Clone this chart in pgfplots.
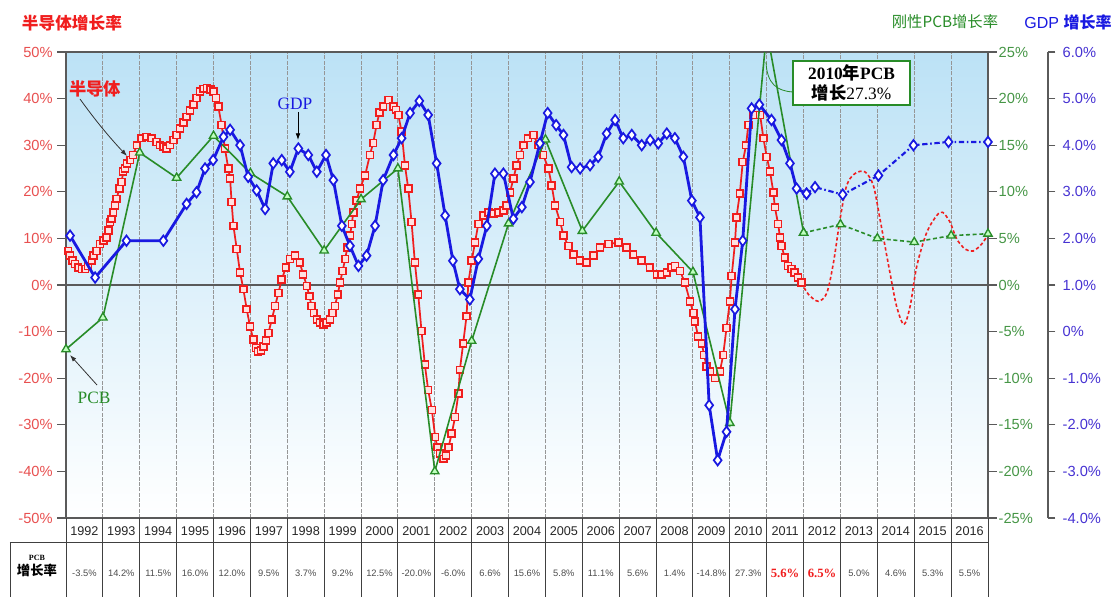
\documentclass[border=0pt]{standalone}
\usepackage{pgfplots}
\pgfplotsset{compat=1.18}
\usepackage{fontspec}
\usetikzlibrary{arrows.meta}
\setmainfont{Liberation Sans}
\newfontfamily\serif{Liberation Serif}
\newfontfamily\cjk{Noto Sans CJK SC}
\definecolor{cred}{RGB}{240,30,30}
\definecolor{tred}{RGB}{232,80,80}
\definecolor{cgreen}{RGB}{40,140,40}
\definecolor{tgreen}{RGB}{70,150,70}
\definecolor{cblue}{RGB}{25,25,225}
\definecolor{tblue}{RGB}{70,50,210}
\definecolor{bgtop}{RGB}{188,226,246}
\definecolor{gridc}{RGB}{150,150,150}
\definecolor{framec}{RGB}{90,90,90}

\pgfplotstableread{
x y
1991.06 7.3
1991.11 6.3
1991.18 5.2
1991.24 4.5
1991.33 3.7
1991.43 3.4
1991.52 3.4
1991.60 4.1
1991.70 5.2
1991.74 6.3
1991.83 7.3
1991.92 8.8
1992.01 9.5
1992.10 10.2
1992.15 11.7
1992.19 13.5
1992.24 14.2
1992.28 15.6
1992.33 17.1
1992.37 18.5
1992.45 20.7
1992.51 22.1
1992.55 24.3
1992.60 25.0
1992.65 26.1
1992.74 26.8
1992.82 27.9
1992.92 30.0
1993.05 31.5
1993.19 31.8
1993.32 31.5
1993.46 30.7
1993.55 30.0
1993.64 29.7
1993.73 29.3
1993.82 30.0
1993.91 31.1
1994.00 32.2
1994.09 33.6
1994.18 34.9
1994.27 36.1
1994.36 37.4
1994.45 38.7
1994.54 40.1
1994.63 41.5
1994.72 42.1
1994.82 42.3
1994.92 42.0
1995.00 41.5
1995.07 40.1
1995.13 38.3
1995.22 34.3
1995.31 29.3
1995.40 25.0
1995.45 22.8
1995.49 17.8
1995.54 12.7
1995.63 7.7
1995.72 2.7
1995.81 -0.9
1995.90 -5.2
1995.99 -8.9
1996.08 -11.7
1996.15 -13.5
1996.21 -14.3
1996.29 -14.0
1996.35 -13.2
1996.42 -11.9
1996.49 -10.3
1996.58 -7.4
1996.67 -4.5
1996.76 -1.7
1996.85 1.2
1996.96 3.7
1997.07 5.6
1997.21 6.3
1997.34 4.8
1997.43 2.3
1997.53 -0.2
1997.60 -2.4
1997.66 -4.5
1997.72 -6.0
1997.80 -7.4
1997.89 -8.1
1997.98 -8.5
1998.07 -8.1
1998.16 -7.4
1998.23 -6.0
1998.29 -4.5
1998.37 -2.0
1998.43 0.5
1998.50 3.0
1998.57 5.6
1998.63 8.1
1998.70 10.6
1998.75 13.1
1998.79 15.6
1998.88 18.1
1998.97 20.7
1999.11 23.5
1999.24 27.9
1999.33 30.5
1999.42 34.3
1999.50 37.0
1999.60 38.3
1999.74 39.7
1999.88 38.3
1999.95 37.6
2000.01 36.5
2000.10 32.9
2000.19 25.7
2000.28 20.7
2000.37 13.5
2000.46 4.8
2000.55 -2.0
2000.64 -9.9
2000.73 -17.1
2000.82 -22.5
2000.92 -26.8
2001.01 -32.6
2001.07 -34.8
2001.14 -36.2
2001.23 -37.3
2001.30 -36.6
2001.37 -34.8
2001.46 -31.9
2001.55 -28.3
2001.64 -23.3
2001.68 -18.2
2001.77 -12.5
2001.86 -6.7
2001.91 0.5
2002.00 5.2
2002.09 9.1
2002.18 13.1
2002.32 14.9
2002.45 15.6
2002.59 15.3
2002.72 15.6
2002.86 16.0
2002.95 17.1
2003.04 19.9
2003.13 22.8
2003.22 25.7
2003.31 27.9
2003.40 30.0
2003.53 31.5
2003.67 32.2
2003.81 30.0
2003.94 27.9
2004.08 25.0
2004.17 21.4
2004.26 17.1
2004.40 13.5
2004.49 10.6
2004.62 8.4
2004.76 6.6
2004.94 5.2
2005.12 4.8
2005.30 6.3
2005.48 8.1
2005.71 8.8
2005.98 9.1
2006.20 8.1
2006.38 6.6
2006.61 5.2
2006.83 3.7
2007.02 2.3
2007.15 2.3
2007.29 2.7
2007.42 3.7
2007.51 4.1
2007.65 3.0
2007.78 0.5
2007.92 -3.5
2008.01 -6.0
2008.05 -7.8
2008.14 -11.0
2008.24 -12.5
2008.30 -15.0
2008.37 -17.5
2008.46 -18.6
2008.60 -20.0
2008.73 -18.6
2008.82 -15.0
2008.91 -9.2
2009.00 -3.5
2009.05 1.9
2009.14 9.1
2009.18 14.5
2009.27 19.6
2009.35 26.4
2009.44 30.0
2009.50 34.3
2009.64 36.5
2009.82 36.5
2009.91 31.5
2010.00 27.5
2010.09 24.3
2010.18 19.9
2010.22 16.7
2010.31 13.1
2010.36 10.2
2010.40 8.4
2010.49 5.9
2010.58 4.1
2010.67 3.4
2010.76 2.7
2010.85 1.6
2010.94 0.5
}\semi

\pgfplotstableread{
x y
2010.94 0.5
2011.13 -2.0
2011.40 -3.5
2011.63 -1.7
2011.81 4.8
2011.99 14.2
2012.17 21.4
2012.39 23.9
2012.66 24.3
2012.89 21.4
2013.07 14.2
2013.34 2.7
2013.52 -4.5
2013.72 -8.5
2013.89 -4.5
2014.07 4.1
2014.34 11.3
2014.61 14.9
2014.77 15.6
2014.97 13.5
2015.15 9.9
2015.38 7.7
2015.60 7.3
2015.83 8.8
2016.00 10.8
}\semif

\pgfplotstableread{
x y
1991.11 2.06
1991.79 1.16
1992.64 1.95
1993.64 1.95
1994.27 2.74
1994.54 2.99
1994.77 3.50
1994.99 3.68
1995.27 4.18
1995.45 4.33
1995.72 4.00
1995.94 3.32
1996.17 3.03
1996.40 2.63
1996.62 3.61
1996.85 3.68
1997.07 3.43
1997.30 3.93
1997.57 3.79
1997.80 3.43
1998.05 3.79
1998.25 3.25
1998.48 2.27
1998.70 1.84
1998.93 1.41
1999.15 1.63
1999.38 2.27
1999.60 3.25
1999.88 3.79
2000.10 4.15
2000.33 4.69
2000.58 4.95
2000.82 4.65
2001.05 3.61
2001.28 2.49
2001.49 1.52
2001.68 0.91
2001.95 0.69
2002.18 1.56
2002.41 2.27
2002.63 3.39
2002.86 3.39
2003.13 2.42
2003.36 2.67
2003.58 3.21
2003.85 4.04
2004.06 4.69
2004.29 4.43
2004.49 4.22
2004.71 3.53
2004.94 3.50
2005.21 3.57
2005.43 3.75
2005.66 4.25
2005.89 4.54
2006.11 4.15
2006.34 4.22
2006.61 4.00
2006.84 4.11
2007.06 4.04
2007.29 4.25
2007.51 4.15
2007.74 3.75
2007.97 2.81
2008.19 2.45
2008.44 -1.58
2008.67 -2.76
2008.91 -2.15
2009.14 0.48
2009.35 1.95
2009.59 4.79
2009.80 4.87
2010.13 4.54
2010.40 4.11
2010.63 3.61
2010.81 3.07
2011.08 2.96
}\gdp

\pgfplotstableread{
x y
2011.08 2.96
2011.31 3.10
2012.06 2.94
2013.03 3.35
2013.98 4.00
2014.93 4.07
2016.00 4.07
}\gdpf

\pgfplotstableread{
x y
1991 -6.9
1992 -3.5
1993 14.2
1994 11.5
1995 16.0
1996 12.0
1997 9.5
1998 3.7
1999 9.2
2000 12.5
2001 -20.0
2002 -6.0
2003 6.6
2004 15.6
2005 5.8
2006 11.1
2007 5.6
2008 1.4
2009 -14.8
2010 27.3
2011 5.6
}\pcb

\pgfplotstableread{
x y
2011 5.6
2012 6.5
2013 5.0
2014 4.6
2015 5.3
2016 5.5
}\pcbf

\pgfplotsset{
  base/.style={width=691.5pt, height=349.5pt, scale only axis,
    xmin=1991, xmax=2016, enlargelimits=false,
    /pgf/number format/assume math mode=true,
    tick label style={font=\fontsize{11}{13}\selectfont},
    major tick length=6.5pt, tick align=outside},
}

\begin{document}
\begin{tikzpicture}
% ---------- main axis: semiconductor (left) ----------
\begin{axis}[base, ymin=-50, ymax=50,
  axis background/.style={top color=bgtop, bottom color=white},
  axis line style={draw=framec, line width=0.8pt},
  ytick={-50,-40,...,50},
  yticklabels={-50\%,-40\%,-30\%,-20\%,-10\%,0\%,10\%,20\%,30\%,40\%,50\%},
  ytick pos=left,
  yticklabel style={text=tred},
  ytick style={draw=framec, line width=0.8pt},
  xtick={1992,...,2015}, xticklabels={},
  xmajorgrids, x grid style={gridc, line width=0.7pt, dash pattern=on 3pt off 1pt},
  xtick style={draw=none}]
  \draw[framec, line width=0.8pt] (axis cs:1991,0) -- (axis cs:2016,0);
  \addplot[cred, line width=1.2pt, dash pattern=on 2.5pt off 1.8pt, smooth, tension=0.5] table {\semif};
  \addplot[cred, line width=1.3pt, mark=square*, mark size=2.6pt,
    mark options={solid, fill=red!12, draw=cred, line width=1.2pt}] table {\semi};
\end{axis}
% ---------- PCB axis (right, green) ----------
\begin{axis}[base, ymin=-25, ymax=25, hide x axis,
  axis y line*=right,
  y axis line style={draw=framec, line width=0.8pt, -},
  ytick={-25,-20,...,25},
  yticklabels={-25\%,-20\%,-15\%,-10\%,-5\%,0\%,5\%,10\%,15\%,20\%,25\%},
  yticklabel style={text=tgreen, xshift=-2pt},
  ytick style={draw=framec, line width=0.8pt}]
  \addplot[cgreen, line width=1.2pt, dash pattern=on 3pt off 2pt, mark=triangle*, mark size=3.6pt,
    mark options={solid, fill=green!25, draw=cgreen, line width=1pt}] table {\pcbf};
  \addplot[cgreen, line width=1.2pt, mark=triangle*, mark size=3.6pt,
    mark options={solid, fill=green!25, draw=cgreen, line width=1pt}] table {\pcb};
\end{axis}
% ---------- GDP data ----------
\begin{axis}[base, ymin=-4, ymax=6, hide x axis, hide y axis]
  \addplot[cblue, line width=1.6pt, dash pattern=on 4pt off 2pt on 1.2pt off 2pt, mark=diamond*, mark size=3.9pt,
    mark options={solid, fill=white, draw=cblue, line width=1.3pt}] table {\gdpf};
  \addplot[cblue, line width=2.1pt, mark=diamond*, mark size=3.9pt,
    mark options={solid, fill=white, draw=cblue, line width=1.3pt}] table {\gdp};
\end{axis}
% ---------- GDP axis (shifted right, blue) ----------
\begin{axis}[base, at={(45pt,0pt)}, ymin=-4, ymax=6, hide x axis,
  axis y line*=right,
  y axis line style={draw=framec, line width=0.8pt, -},
  ytick={-4,...,6},
  yticklabels={-4.0\%,-3.0\%,-2.0\%,-1.0\%,0\%,1.0\%,2.0\%,3.0\%,4.0\%,5.0\%,6.0\%},
  yticklabel style={text=tblue, xshift=2pt},
  major tick length=5.5pt,
  ytick style={draw=framec, line width=0.8pt}]
  \addplot[draw=none] coordinates {(1991,0)};
\end{axis}

% ---------- decorations in pixel coordinates ----------
\begin{scope}[x=0.75pt, y=-0.75pt, shift={(-49.5pt,388.5pt)}]
  % titles
  \node[text=cred, font=\cjk\bfseries\fontsize{12.5}{14}\selectfont] at (72,23) {半导体增长率};
  \node[text=cgreen, font=\cjk\fontsize{11.5}{14}\selectfont] at (945,22) {刚性PCB增长率};
  \node[text=cblue, font=\fontsize{12}{14}\selectfont] at (1068,22) {GDP {\cjk\bfseries 增长率}};
  % annotations
  \node[text=cred, font=\cjk\bfseries\fontsize{13}{15}\selectfont] at (95,89) {半导体};
  \draw[black!80, line width=0.6pt, -{Latex[length=5pt,width=3.5pt]}] (80,99) .. controls (95,120) and (110,138) .. (127,156);
  \node[text=cblue, font=\serif\fontsize{13}{15}\selectfont] at (295,104) {GDP};
  \draw[black, line width=0.6pt, -{Latex[length=5pt,width=3.5pt]}] (298,112) -- (298,140);
  \node[text=cgreen, font=\serif\fontsize{13}{15}\selectfont] at (94,398) {PCB};
  \draw[black!80, line width=0.6pt, -{Latex[length=5pt,width=3.5pt]}] (97,385) -- (70,355);
  % callout box
  \draw[cgreen, line width=0.6pt] (793,92) .. controls (777,91) and (767,84) .. (766,62);
  \node[draw=cgreen, line width=0.9pt, fill=white, inner sep=0pt, minimum width=87.75pt, minimum height=33pt,
        align=center, font=\serif\fontsize{13}{15.5}\selectfont] at (851.5,83)
        {\textbf{2010{\cjk\bfseries 年}PCB}\\{\cjk\bfseries 增长}27.3\%};
  % table
  \draw[black!75, line width=0.7pt] (10,542) -- (988,542);
  \draw[black!75, line width=0.7pt] (10,542) -- (10,597);
  \foreach \k in {0,...,25} {
    \draw[black!75, line width=0.7pt] ({66+\k*36.88},518) -- ({66+\k*36.88},597);
  }
  \foreach \k in {1992,...,2016} {
    \node[font=\fontsize{9.5}{10}\selectfont, text=black!85] at ({66+(\k-1991.5)*36.88},531) {\k};
  }
  \foreach \k/\v in {1992/-3.5\%,1993/14.2\%,1994/11.5\%,1995/16.0\%,1996/12.0\%,1997/9.5\%,
      1998/3.7\%,1999/9.2\%,2000/12.5\%,2001/-20.0\%,2002/-6.0\%,2003/6.6\%,2004/15.6\%,
      2005/5.8\%,2006/11.1\%,2007/5.6\%,2008/1.4\%,2009/-14.8\%,2010/27.3\%,
      2013/5.0\%,2014/4.6\%,2015/5.3\%,2016/5.5\%} {
    \node[font=\fontsize{7}{8}\selectfont, text=black!70] at ({66+(\k-1991.5)*36.88},573) {\v};
  }
  \foreach \k/\v in {2011/5.6\%,2012/6.5\%} {
    \node[font=\serif\bfseries\fontsize{9.5}{11}\selectfont, text=cred] at ({66+(\k-1991.5)*36.88},573) {\v};
  }
  \node[font=\serif\bfseries\fontsize{6}{7}\selectfont] at (37,558) {PCB};
  \node[font=\cjk\bfseries\fontsize{10}{11}\selectfont] at (37,570) {增长率};
  \pgfresetboundingbox
  \path (0,0) rectangle (1115,597);
\end{scope}
\end{tikzpicture}
\end{document}
